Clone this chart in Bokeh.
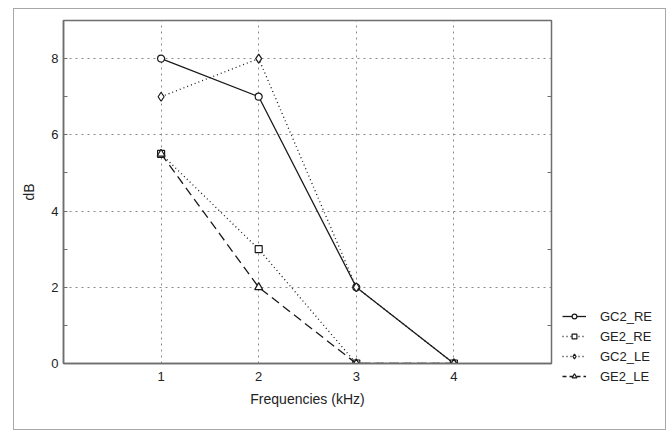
from bokeh.plotting import figure
from bokeh.models import FixedTicker, LinearAxis, Legend, LegendItem, Range1d
from bokeh.layouts import row, column
from bokeh.embed import file_html
from bokeh.resources import INLINE

# ---- data ----
freqs = [1, 2, 3, 4]
gc2_re = [8, 7, 2, 0]
ge2_re = [5.5, 3, 0, 0]
gc2_le = [7, 8, 2, 0]
ge2_le = [5.5, 2, 0, 0]
series_names = ["GC2_RE", "GE2_RE", "GC2_LE", "GE2_LE"]
x_ticks = [1, 2, 3, 4]
y_ticks = [0, 2, 4, 6, 8]
y_minor = [1, 3, 5, 7]

FONT = "Liberation Sans"
INK = "#1a1a1a"

p = figure(frame_width=488, frame_height=343,
           x_range=Range1d(0, 5), y_range=Range1d(0, 9),
           output_backend="svg", toolbar_location=None,
           min_border_left=49, min_border_top=11, min_border_right=4, min_border_bottom=66)
p.background_fill_color = "white"
p.border_fill_color = "white"
p.outline_line_color = "#6e6e6e"
p.outline_line_width = 1.5

# axes
for ax in (p.xaxis[0], p.yaxis[0]):
    ax.axis_line_color = "#6e6e6e"
    ax.axis_line_width = 1.5
    ax.major_label_text_font = FONT
    ax.major_label_text_font_size = "13px"
    ax.major_label_text_color = "#222222"
    ax.axis_label_text_font = FONT
    ax.axis_label_text_font_size = "14px"
    ax.axis_label_text_font_style = "normal"
    ax.axis_label_text_color = "#222222"

p.xaxis.ticker = FixedTicker(ticks=x_ticks)
p.xaxis.major_tick_in = 0
p.xaxis.major_tick_out = 0
p.xaxis.minor_tick_line_color = None
p.xaxis.major_label_standoff = 8
p.xaxis.axis_label = "Frequencies (kHz)"
p.xaxis.axis_label_standoff = 7

p.yaxis.ticker = FixedTicker(ticks=y_ticks, minor_ticks=y_minor)
p.yaxis.major_tick_in = 4
p.yaxis.major_tick_out = 0
p.yaxis.minor_tick_in = 4
p.yaxis.minor_tick_out = 0
p.yaxis.major_tick_line_color = "#6e6e6e"
p.yaxis.minor_tick_line_color = "#6e6e6e"
p.yaxis.major_label_standoff = 5
p.yaxis.axis_label = "dB"
p.yaxis.axis_label_standoff = 11

right = LinearAxis(ticker=FixedTicker(ticks=[], minor_ticks=y_minor),
                   axis_line_color="#6e6e6e",
                   major_tick_in=0, major_tick_out=0, minor_tick_in=4, minor_tick_out=0,
                   minor_tick_line_color="#6e6e6e")
p.add_layout(right, "right")

# grids
p.xgrid.ticker = FixedTicker(ticks=x_ticks)
p.ygrid.ticker = FixedTicker(ticks=[2, 4, 6, 8])
for g in (p.xgrid[0], p.ygrid[0]):
    g.grid_line_color = "#8a8a8a"
    g.grid_line_dash = "2 4"
    g.grid_line_width = 1

# legend panel (separate small figure to the right; its data lies outside its view)
leg = figure(width=110, height=420, x_range=Range1d(100, 101), y_range=Range1d(100, 101),
             output_backend="svg", toolbar_location=None, min_border=0)
leg.axis.visible = False
leg.grid.visible = False
leg.outline_line_color = None
leg.background_fill_color = "white"
leg.border_fill_color = "white"

# series
styles = [
    (gc2_re, "solid", "circle", 7),
    (ge2_re, "1 3", "square", 7),
    (gc2_le, "1 3", "diamond", 9),
    (ge2_le, "9 5", "triangle", 8),
]
items = []
for name, (ys, dash, marker, size) in zip(series_names, styles):
    p.line(freqs, ys, line_color=INK, line_width=1.3, line_dash=dash)
    p.scatter(freqs, ys, marker=marker, size=size, fill_color="white",
              line_color=INK, line_width=1.2)
    ln = leg.line(freqs, ys, line_color=INK, line_width=1.3,
                  line_dash=("4 3" if dash == "9 5" else dash))
    sc = leg.scatter(freqs, ys, marker=marker, size=size - 1, fill_color="white",
                     line_color=INK, line_width=1.2)
    items.append(LegendItem(label=name, renderers=[ln, sc]))

legend = Legend(items=items, location=(7, 43), padding=0, margin=0, spacing=0,
                label_height=20, glyph_height=12, glyph_width=24, label_standoff=14,
                label_text_font=FONT, label_text_font_size="13px", label_text_color="#222222",
                border_line_alpha=0, background_fill_alpha=0)
leg.add_layout(legend, "center")

layout = row(p, column(leg))
layout.styles = {"border": "1px solid #a8a8a8", "margin-left": "13px", "margin-top": "8px"}

open("out.html", "w").write(file_html(layout, INLINE))
